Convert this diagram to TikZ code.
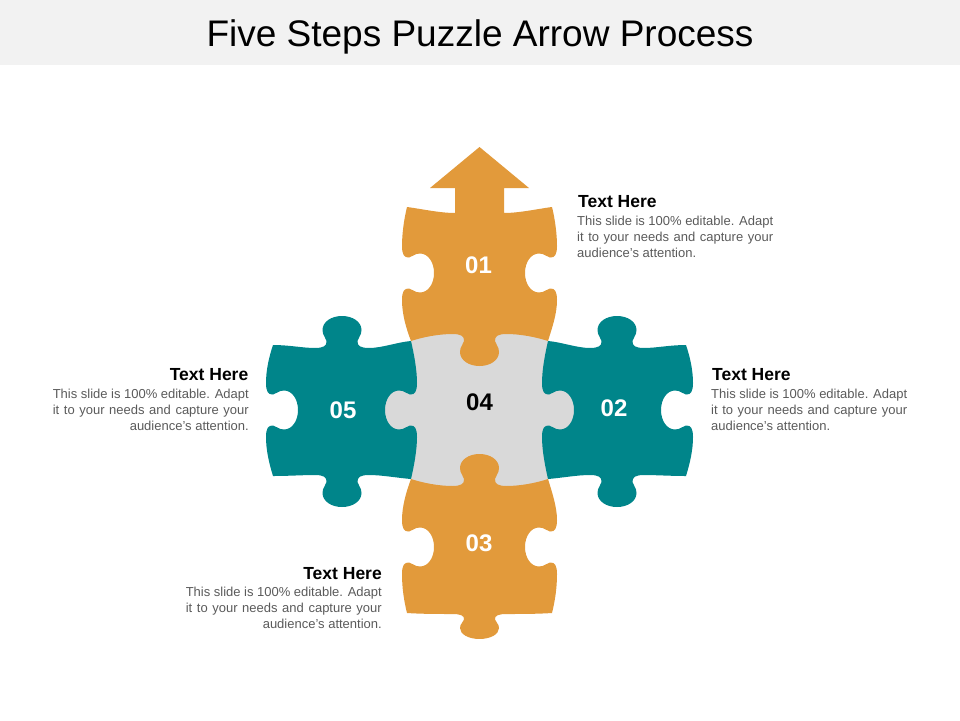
\documentclass[tikz,border=0pt]{standalone}
\usepackage{fontspec}
\setmainfont{Liberation Sans}
\definecolor{orng}{HTML}{E29A3B}
\definecolor{tealc}{HTML}{00858A}
\definecolor{lgrey}{HTML}{D9D9D9}
\definecolor{barc}{HTML}{F2F2F2}
\definecolor{bodygrey}{HTML}{5A5A5A}
% puzzle knob: centre (#1,#2), travel direction (#3,#4), protrusion direction (#5,#6)
\newcommand\K[6]{%
-- ({#1-27*(#3)},{#2-27*(#4)})
.. controls ({#1-19*(#3)},{#2-19*(#4)}) and ({#1-15*(#3)+2*(#5)},{#2-15*(#4)+2*(#6)})
.. ({#1-15.5*(#3)+7*(#5)},{#2-15.5*(#4)+7*(#6)})
.. controls ({#1-16*(#3)+11*(#5)},{#2-16*(#4)+11*(#6)}) and ({#1-19.5*(#3)+12*(#5)},{#2-19.5*(#4)+12*(#6)})
.. ({#1-19.5*(#3)+18*(#5)},{#2-19.5*(#4)+18*(#6)})
.. controls ({#1-19.5*(#3)+26*(#5)},{#2-19.5*(#4)+26*(#6)}) and ({#1-11*(#3)+32*(#5)},{#2-11*(#4)+32*(#6)})
.. ({#1+32*(#5)},{#2+32*(#6)})
.. controls ({#1+11*(#3)+32*(#5)},{#2+11*(#4)+32*(#6)}) and ({#1+19.5*(#3)+26*(#5)},{#2+19.5*(#4)+26*(#6)})
.. ({#1+19.5*(#3)+18*(#5)},{#2+19.5*(#4)+18*(#6)})
.. controls ({#1+19.5*(#3)+12*(#5)},{#2+19.5*(#4)+12*(#6)}) and ({#1+16*(#3)+11*(#5)},{#2+16*(#4)+11*(#6)})
.. ({#1+15.5*(#3)+7*(#5)},{#2+15.5*(#4)+7*(#6)})
.. controls ({#1+15*(#3)+2*(#5)},{#2+15*(#4)+2*(#6)}) and ({#1+19*(#3)},{#2+19*(#4)})
.. ({#1+27*(#3)},{#2+27*(#4)})}
\newcommand\tealpath{%
(273,345) .. controls (289,345) and (303,348) .. (315,348) \K{342}{348}{1}{0}{0}{-1}
 .. controls (382,348) and (398,342) .. (411,341)
 .. controls (414,354) and (417,370) .. (417,383) \K{417}{410}{0}{1}{-1}{0}
 .. controls (417,450) and (414,466) .. (411,479)
 .. controls (398,478) and (382,475) .. (369,475) \K{342}{475}{-1}{0}{0}{1}
 .. controls (303,475) and (289,476) .. (273,476)
 .. controls (269,463) and (266,450) .. (266,437) \K{266}{410}{0}{-1}{1}{0}
 .. controls (266,370) and (269,357) .. (273,345) -- cycle}
\newcommand\blk[1]{\vtop{\hbox to 196pt{This slide is 100\% editable. Adapt}\hbox to 196pt{it to your needs and capture your}\hbox to 196pt{#1}}}
\begin{document}
\begin{tikzpicture}[x=1pt,y=-1pt,
  num/.style={font=\bfseries\fontsize{24}{24}\selectfont,text=white,inner sep=0},
  head/.style={font=\bfseries\fontsize{17.5}{20}\selectfont,text=black,inner sep=0},
  body/.style={font=\fontsize{13}{16}\selectfont,text=bodygrey,inner sep=0},
  ttl/.style={font=\fontsize{37}{40}\selectfont,text=black,inner sep=0,anchor=base}]
\useasboundingbox (0,0) rectangle (960,720);
\fill[barc] (0,0) rectangle (960,65);
\node[ttl] (title) at (480,46) {Five Steps Puzzle Arrow Process};
% centre piece 04
\filldraw[fill=lgrey,draw=lgrey,line width=1.2pt]
 (411,341) .. controls (423,337) and (439,334) .. (452.5,334) -- (506.5,334)
 .. controls (520,334) and (536,337) .. (548,341)
 .. controls (545,354) and (542,370) .. (542,383) \K{542}{410}{0}{1}{1}{0}
 .. controls (542,450) and (545,466) .. (548,479)
 .. controls (536,483) and (520,486) .. (506.5,486) -- (452.5,486)
 .. controls (439,486) and (423,483) .. (411,479)
 .. controls (414,466) and (417,450) .. (417,437) \K{417}{410}{0}{-1}{-1}{0}
 .. controls (417,370) and (414,354) .. (411,341) -- cycle;
% teal pieces 05 and 02
\fill[tealc] \tealpath;
\begin{scope}[shift={(959,0)},xscale=-1]
\fill[tealc] \tealpath;
\end{scope}
% orange piece 01 with arrow
\fill[orng]
 (407,207) .. controls (422,209) and (440,213) .. (455,213) -- (455,188) -- (430,188)
 -- (479.5,147) -- (529,188) -- (504,188) -- (504,213)
 .. controls (519,213) and (537,209) .. (552,207)
 .. controls (555,219) and (557,234) .. (557,246) \K{557}{273}{0}{1}{-1}{0}
 .. controls (557,314) and (552,328) .. (548,341)
 .. controls (536,337) and (520,334) .. (506.5,334) \K{479.5}{334}{-1}{0}{0}{1}
 .. controls (439,334) and (423,337) .. (411,341)
 .. controls (406,328) and (402,314) .. (402,300) \K{402}{273}{0}{-1}{1}{0}
 .. controls (402,234) and (404,219) .. (407,207) -- cycle;
% orange piece 03
\fill[orng]
 (411,479) .. controls (423,483) and (439,486) .. (452.5,486) \K{479.5}{486}{1}{0}{0}{-1}
 .. controls (520,486) and (536,483) .. (548,479)
 .. controls (552,492) and (557,507) .. (557,520) \K{557}{547}{0}{1}{-1}{0}
 .. controls (557,588) and (555,601) .. (552,613)
 .. controls (537,614) and (520,614) .. (506.5,614) \K{479.5}{614}{-1}{0}{0}{0.78}
 .. controls (439,614) and (422,614) .. (407,613)
 .. controls (404,601) and (402,588) .. (402,574) \K{402}{547}{0}{-1}{1}{0}
 .. controls (402,507) and (406,492) .. (411,479) -- cycle;
% numbers
\node[num] (n01) at (478.5,265) {01};
\node[num] (n02) at (614,408) {02};
\node[num] (n03) at (479,543) {03};
\node[num,text=black] (n04) at (479.5,402) {04};
\node[num] (n05) at (343,410) {05};
% texts
\node[head,anchor=base west] (h1) at (578,207) {Text Here};
\node[body,anchor=base west] (b1) at (577,225) {\blk{audience{\char"27}s attention.\hfil}};
\node[head,anchor=base west] (h2) at (712,380.5) {Text Here};
\node[body,anchor=base west] (b2) at (711,398) {\blk{audience{\char"27}s attention.\hfil}};
\node[head,anchor=base east] (h5) at (248.5,380.5) {Text Here};
\node[body,anchor=base east] (b5) at (249,398) {\blk{\hfil audience{\char"27}s attention.}};
\node[head,anchor=base east] (h3) at (382,579) {Text Here};
\node[body,anchor=base east] (b3) at (382,596) {\blk{\hfil audience{\char"27}s attention.}};
\end{tikzpicture}
\end{document}
